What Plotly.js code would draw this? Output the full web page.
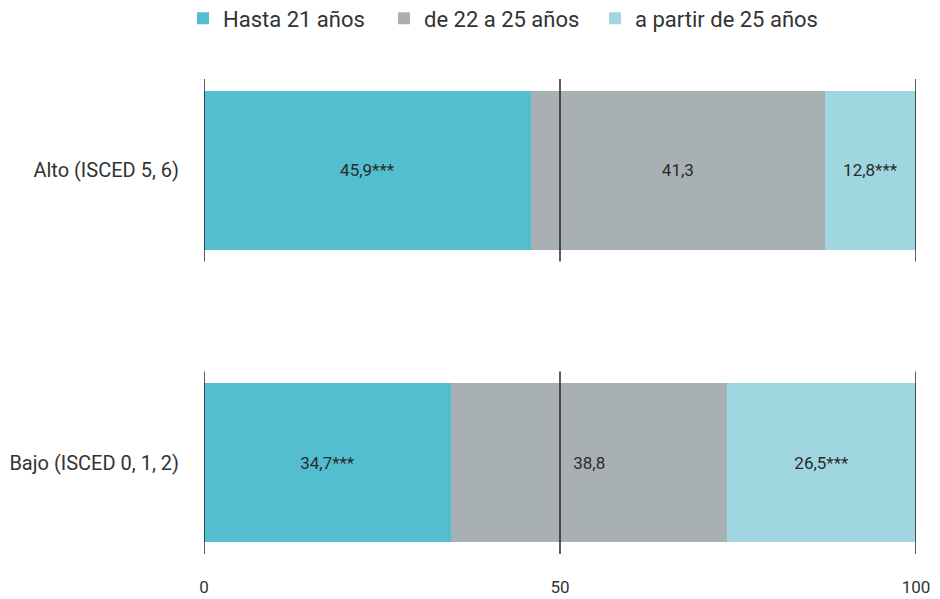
<!DOCTYPE html>
<html>
<head>
<meta charset="utf-8">
<script src="https://cdn.plot.ly/plotly-3.0.1.min.js"></script>
<style>html,body{margin:0;padding:0;background:#fff;}#chart{width:940px;height:599px;}</style>
</head>
<body>
<div id="chart"></div>
<script>
const categories = ["Bajo (ISCED 0, 1, 2)", "Alto (ISCED 5, 6)"];
const seriesNames = ["Hasta 21 años", "de 22 a 25 años", "a partir de 25 años"];
const hasta21 = [34.7, 45.9];
const de22a25 = [38.8, 41.3];
const desde25 = [26.5, 12.8];
const hasta21Labels = ["34,7***", "45,9***"];
const de22a25Labels = ["38,8", "41,3"];
const desde25Labels = ["26,5***", "12,8***"];
const xTicks = [0, 50, 100];
const colors = ["#52BECF", "#A8B0B3", "#A0D6E0"];

const yPos = categories.map((c, i) => i);
const font = "Roboto, 'Open Sans', sans-serif";
const values = [hasta21, de22a25, desde25];
const labels = [hasta21Labels, de22a25Labels, desde25Labels];
const legendIds = ["legend", "legend2", "legend3"];
const legendX = [-0.0295, 0.2528, 0.5492];

const traces = values.map((v, k) => ({
  type: "bar",
  orientation: "h",
  name: seriesNames[k],
  legend: legendIds[k],
  x: v,
  y: yPos,
  text: labels[k],
  textposition: "inside",
  insidetextanchor: "middle",
  textfont: {family: font, size: 17, color: "#2b2b2b"},
  marker: {color: colors[k], line: {width: 0}},
  width: 0.545,
  hoverinfo: "skip"
}));

const shapes = [];
xTicks.forEach(t => {
  yPos.forEach(y => {
    shapes.push({type: "line", xref: "x", yref: "y", x0: t, x1: t, y0: y - 0.312, y1: y + 0.312,
      line: {color: "#1a1a1a", width: 1.4}, layer: "above"});
  });
});

const layout = {
  width: 940, height: 599,
  margin: {l: 204, r: 24, t: 68.3, b: 34.3, pad: 0, autoexpand: false},
  paper_bgcolor: "#fff", plot_bgcolor: "#fff",
  barmode: "stack",
  showlegend: true,
  xaxis: {range: [0, 100], tickvals: xTicks, ticktext: xTicks.map(String), showgrid: false, zeroline: false,
    showline: false, ticks: "", ticklabelstandoff: 10, tickfont: {family: font, size: 17, color: "#333"}, fixedrange: true},
  yaxis: {range: [-0.35, 1.35], tickvals: yPos, ticktext: categories, showgrid: false, zeroline: false,
    showline: false, ticks: "", ticklabelstandoff: 24, tickfont: {family: font, size: 20, color: "#333"}, fixedrange: true},
  shapes: shapes
};
legendIds.forEach((id, k) => {
  layout[id] = {orientation: "h", x: legendX[k], xanchor: "left", y: 1.142, yanchor: "top",
    font: {family: font, size: 22, color: "#333"}, bgcolor: "rgba(0,0,0,0)"};
});

Plotly.newPlot("chart", traces, layout, {displayModeBar: false, staticPlot: true});
</script>
</body>
</html>
